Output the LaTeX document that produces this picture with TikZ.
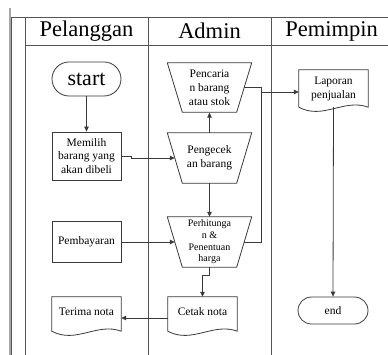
\documentclass[tikz,border=0pt]{standalone}
\usepackage{fontspec}
\setmainfont{Liberation Serif}
\usetikzlibrary{arrows.meta,calc}
\definecolor{ln}{HTML}{3A3A3A}
\definecolor{frm}{HTML}{555555}
\newcommand{\trapdraw}[1]{\draw[shp] (#1.north west) -- (#1.north east) -- ([xshift=-15pt]#1.south east) -- ([xshift=15pt]#1.south west) -- cycle;}
\newcommand{\docdraw}[1]{\draw[shp] (#1.north west) -- (#1.north east) -- (#1.south east) .. controls +(-24,-9) and +(24,13) .. (#1.south west) -- cycle;}
\begin{document}
\begin{tikzpicture}[x=1pt,y=-1pt,
  shp/.style={draw=ln, line width=0.8pt},
  frame/.style={draw=frm, line width=0.8pt},
  arr/.style={draw=ln, line width=0.8pt, -{Triangle[length=5pt,width=4.5pt]}},
  con/.style={draw=ln, line width=0.8pt},
  small/.style={font=\fontsize{11.5}{13.8}\selectfont},
  tiny/.style={font=\fontsize{10}{11.7}\selectfont},
  hdr/.style={font=\fontsize{22.5}{26}\selectfont},
  procbox/.style={draw=ln, line width=0.8pt, minimum width=69pt, inner sep=0pt, align=center, small},
  docbox/.style={minimum width=69pt, inner sep=0pt, align=center, small},
  trapbox/.style={minimum width=84pt, minimum height=50pt, inner sep=0pt, align=center},
  termbox/.style={draw=ln, line width=0.8pt, inner sep=0pt, align=center}
]
\useasboundingbox (0,0) rectangle (388,355);
\fill[white] (0,0) rectangle (388,355);
% frame
\draw[draw=black!35, line width=2pt] (9.5,8) -- (9.5,355);
\draw[frame] (11.5,17) -- (11.5,355);
\draw[frame] (11.5,17) -- (388,17);
\draw[frame] (25,17) -- (25,355);
\draw[frame] (25,45) -- (388,45);
\draw[frame] (148,17) -- (148,355);
\draw[frame] (271,17) -- (271,355);
% headers
\node[hdr] (hpel) at (86.5,31) {Pelanggan};
\node[hdr] (hadm) at (209.5,31) {Admin};
\node[hdr] (hpem) at (331.5,31) {Pemimpin};
% Pelanggan lane
\node[termbox, minimum width=69pt, minimum height=34pt, rounded corners=17pt, font=\fontsize{22}{26}\selectfont] (start) at (86.5,79) {start};
\node[procbox, minimum height=48pt] (memilih) at (86.5,156) {Memilih\\barang yang\\akan dibeli};
\node[procbox, minimum height=41pt] (pemb) at (86.5,242) {Pembayaran};
\node[docbox, minimum height=34pt] (terima) at (86.5,314) {\raisebox{4pt}{Terima nota}};
\docdraw{terima}
% Admin lane
\node[trapbox, minimum height=49pt, small] (cari) at (209.5,87.5) {Pencaria\\n barang\\atau stok};
\trapdraw{cari}
\node[trapbox, small] (cek) at (209.5,158) {Pengecek\\an barang};
\trapdraw{cek}
\node[trapbox, tiny] (hitung) at (209.5,242) {Perhitunga\\n \&\\Penentuan\\harga};
\trapdraw{hitung}
\node[docbox, minimum height=34pt] (cetak) at (202.5,314) {\raisebox{4pt}{Cetak nota}};
\docdraw{cetak}
% Pemimpin lane
\node[docbox, minimum height=37pt] (lapor) at (333.5,88.5) {\raisebox{4pt}{\begin{tabular}{@{}c@{}}Laporan\\penjualan\end{tabular}}};
\docdraw{lapor}
\node[termbox, small, minimum width=70pt, minimum height=27pt, rounded corners=13.5pt] (end) at (333,310.5) {end};
% connectors
\coordinate (j) at (261,92);
\draw[arr] (start.south) -- (memilih.north);
\draw[arr] (memilih.east) -- ++(10,0) |- ([xshift=7.5pt]cek.west);
\draw[arr] (cek.north) -- ([yshift=-0.4pt]cari.south);
\draw[arr] (cek.south) -- (hitung.north);
\draw[arr] (pemb.east) -- ([xshift=7.5pt]hitung.west);
\draw[arr] (hitung.south) -- ++(0,8) -| (cetak.north);
\draw[arr] ([yshift=-4pt]cetak.west) -- ([yshift=-4pt]terima.east);
\draw[con] ([xshift=-7.5pt]cari.east) -| (j);
\draw[con] ([xshift=-7.5pt]hitung.east) -| (j);
\draw[arr] (j) -- (j -| lapor.west);
\draw[arr] (lapor.south) -- (end.north);
\end{tikzpicture}
\end{document}
